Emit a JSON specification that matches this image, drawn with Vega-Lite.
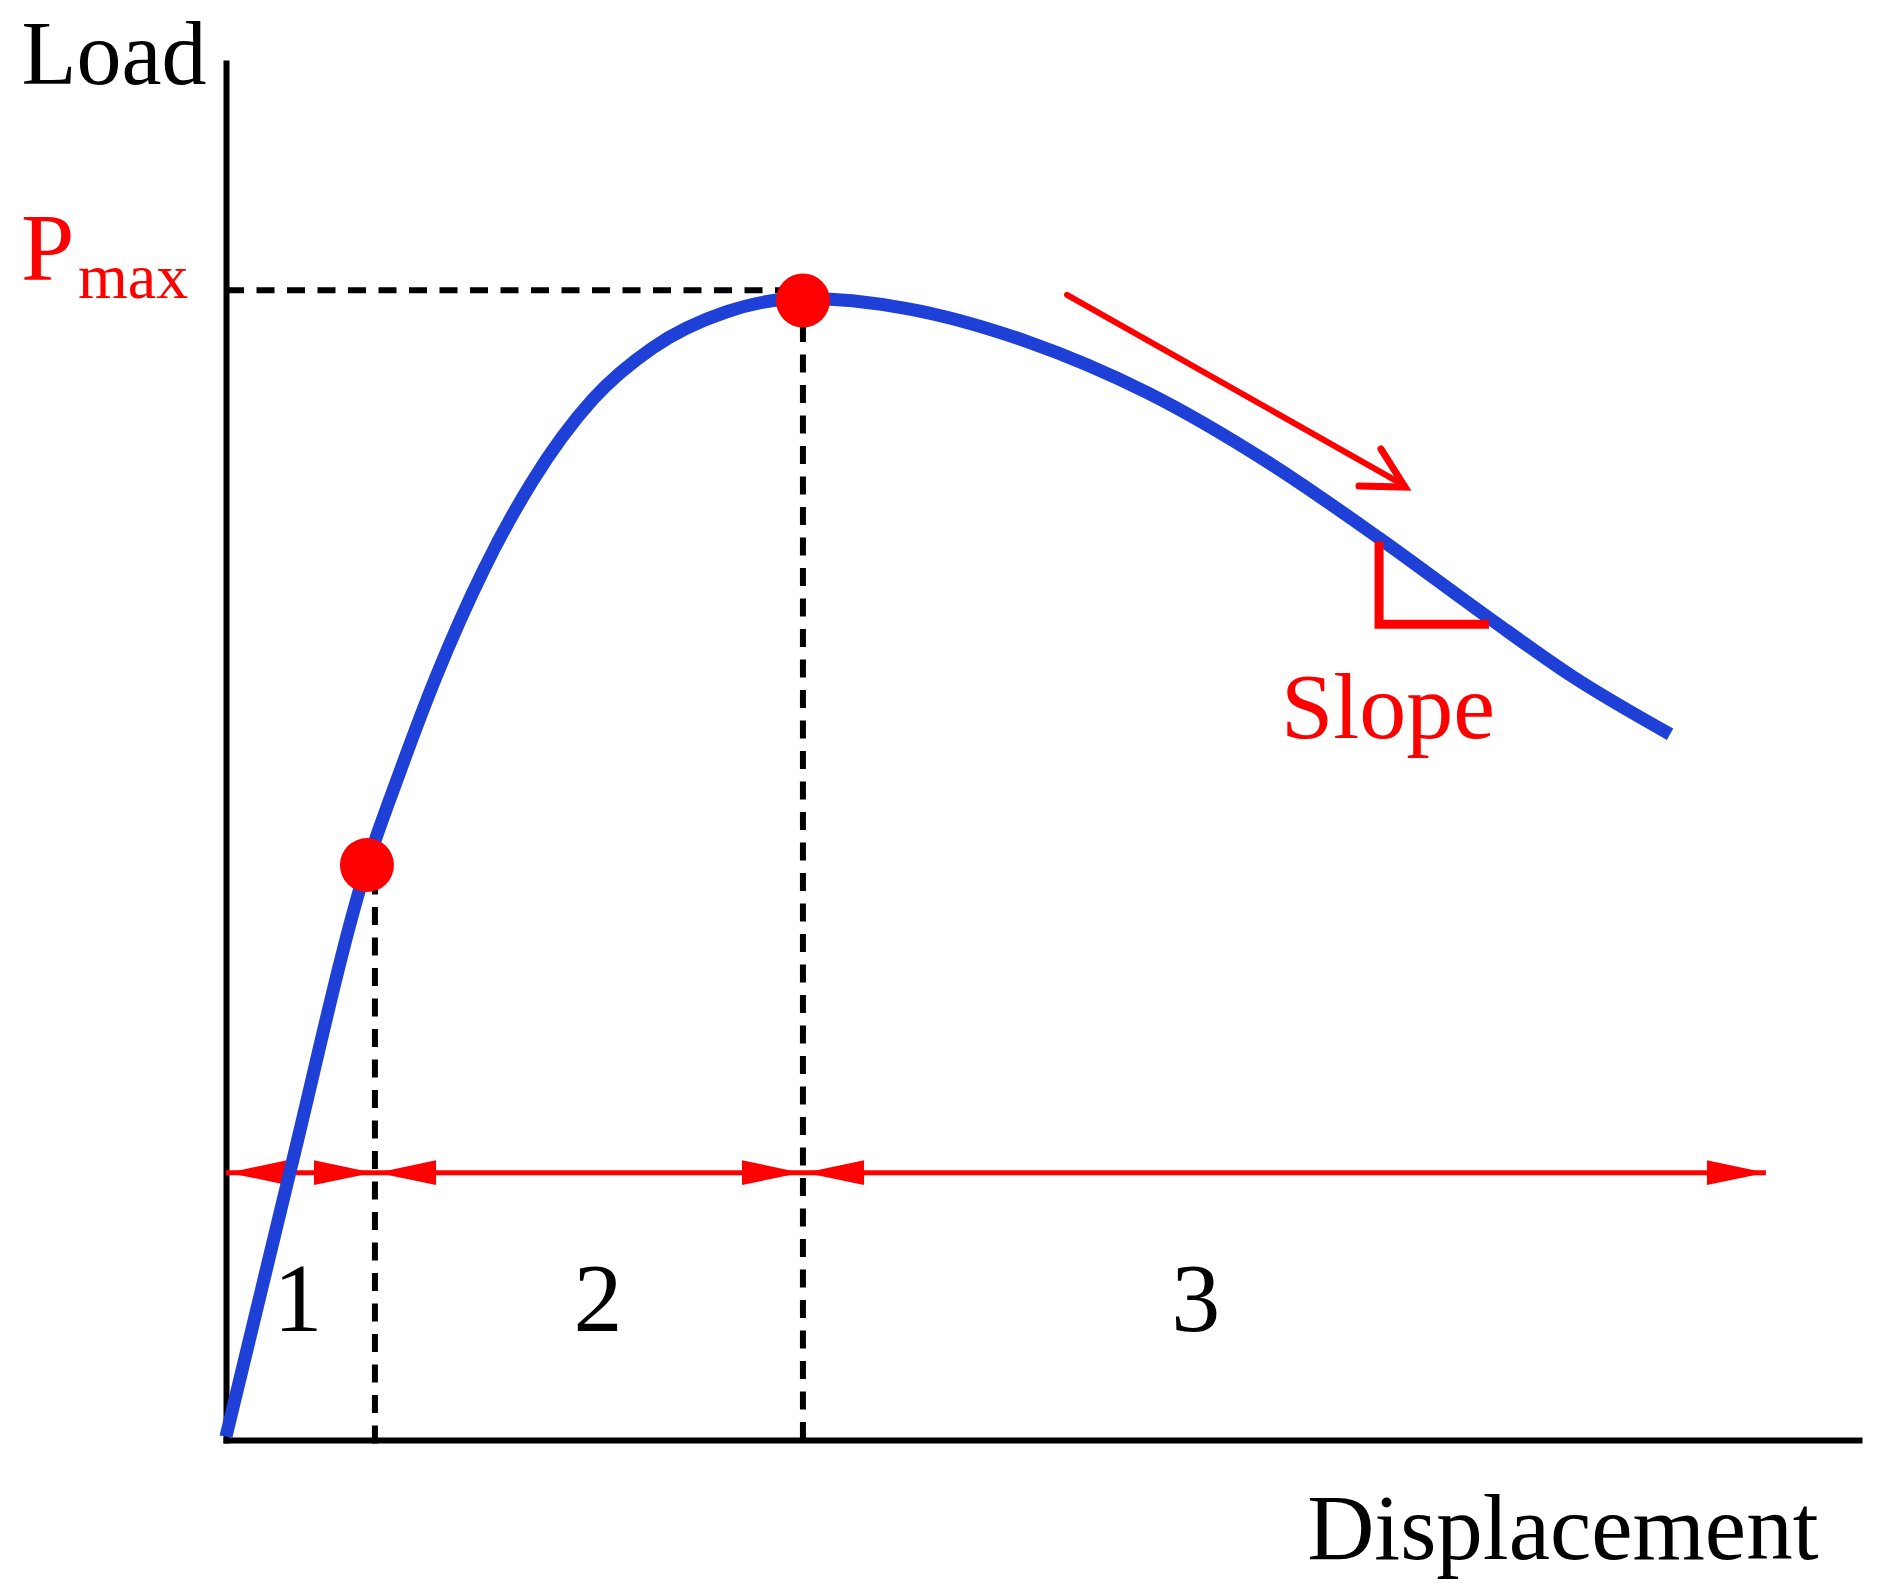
{
  "$schema": "https://vega.github.io/schema/vega-lite/v6.json",
  "width": 1633,
  "height": 1377,
  "autosize": {"type": "none"},
  "padding": {"left": 226, "top": 63, "right": 38, "bottom": 145},
  "background": "white",
  "config": {
    "view": {"stroke": null},
    "font": "Liberation Serif",
    "axis": {
      "domainColor": "black",
      "domainWidth": 6,
      "domainCap": "square",
      "ticks": false,
      "labels": false,
      "grid": false,
      "titleFont": "Liberation Serif",
      "titleFontWeight": "normal",
      "titleColor": "black"
    }
  },
  "datasets": {
    "curve": [
      {"d": 0.0, "load": 0.003},
      {"d": 0.392, "load": 0.234},
      {"d": 0.863, "load": 0.501},
      {"d": 1.059, "load": 0.580},
      {"d": 1.286, "load": 0.665},
      {"d": 1.580, "load": 0.759},
      {"d": 1.874, "load": 0.835},
      {"d": 2.247, "load": 0.907},
      {"d": 2.615, "load": 0.952},
      {"d": 3.062, "load": 0.983},
      {"d": 3.533, "load": 0.995},
      {"d": 4.170, "load": 0.986},
      {"d": 4.911, "load": 0.957},
      {"d": 5.652, "load": 0.912},
      {"d": 6.393, "load": 0.851},
      {"d": 7.061, "load": 0.786},
      {"d": 7.728, "load": 0.717},
      {"d": 8.249, "load": 0.665},
      {"d": 8.843, "load": 0.615}
    ],
    "guides": [
      {"d": 0, "d2": 3.533, "load": 1.002, "load2": 1.002},
      {"d": 0.912, "d2": 0.912, "load": -0.003, "load2": 0.501},
      {"d": 3.533, "d2": 3.533, "load": 0, "load2": 0.993}
    ],
    "spans": [
      {"d": 0, "d2": 9.43, "load": 0.233, "load2": 0.233}
    ],
    "heads": [
      {"d": 0.012, "load": 0.233, "dir": "left"},
      {"d": 0.925, "load": 0.233, "dir": "left"},
      {"d": 3.546, "load": 0.233, "dir": "left"},
      {"d": 0.900, "load": 0.233, "dir": "right"},
      {"d": 3.521, "load": 0.233, "dir": "right"},
      {"d": 9.430, "load": 0.233, "dir": "right"}
    ],
    "dots": [
      {"d": 0.863, "load": 0.501},
      {"d": 3.533, "load": 0.993}
    ],
    "slopeL": [
      {"d": 7.061, "load": 0.783, "o": 1},
      {"d": 7.061, "load": 0.711, "o": 2},
      {"d": 7.734, "load": 0.711, "o": 3}
    ],
    "shaft": [
      {"d": 5.150, "d2": 7.215, "load": 0.998, "load2": 0.832}
    ],
    "arrowHead": [
      {"d": 7.073, "load": 0.8636, "o": 1},
      {"d": 7.220, "load": 0.8305, "o": 2},
      {"d": 6.938, "load": 0.8314, "o": 3}
    ],
    "regions": [
      {"d": 0.441, "load": 0.095, "label": "1"},
      {"d": 2.278, "load": 0.095, "label": "2"},
      {"d": 5.939, "load": 0.095, "label": "3"}
    ],
    "pLabel": [{"d": -1.255, "load": 1.011, "label": "P"}],
    "maxLabel": [{"d": -0.906, "load": 0.995, "label": "max"}],
    "slopeLabel": [{"d": 6.460, "load": 0.612, "label": "Slope"}]
  },
  "encoding": {
    "x": {
      "field": "d",
      "type": "quantitative",
      "scale": {"domain": [0, 10], "nice": false, "zero": false},
      "axis": {
        "title": "Displacement",
        "titleFontSize": 93,
        "titleAngle": 0,
        "titleAlign": "right",
        "titleBaseline": "alphabetic",
        "titleX": 1592,
        "titleY": 118
      }
    },
    "y": {
      "field": "load",
      "type": "quantitative",
      "scale": {"domain": [0, 1.2], "nice": false, "zero": false},
      "axis": {
        "title": "Load",
        "titleFontSize": 90,
        "titleAngle": 0,
        "titleAlign": "right",
        "titleBaseline": "alphabetic",
        "titleX": -20,
        "titleY": 20
      }
    }
  },
  "layer": [
    {
      "data": {"name": "guides"},
      "mark": {"type": "rule", "color": "black", "strokeWidth": 6, "strokeDash": [18, 12.5], "strokeCap": "butt"},
      "encoding": {
        "x2": {"field": "d2"},
        "y2": {"field": "load2"}
      }
    },
    {
      "data": {"name": "spans"},
      "mark": {"type": "rule", "color": "#ff0000", "strokeWidth": 5, "strokeCap": "butt"},
      "encoding": {
        "x2": {"field": "d2"},
        "y2": {"field": "load2"}
      }
    },
    {
      "data": {"name": "heads"},
      "transform": [{"filter": "datum.dir == 'left'"}],
      "mark": {"type": "point", "filled": true, "color": "#ff0000", "opacity": 1, "strokeWidth": 0, "size": 3481, "shape": "M 0 0 L 2 -0.42 L 2 0.42 Z"},
      "encoding": {}
    },
    {
      "data": {"name": "heads"},
      "transform": [{"filter": "datum.dir == 'right'"}],
      "mark": {"type": "point", "filled": true, "color": "#ff0000", "opacity": 1, "strokeWidth": 0, "size": 3481, "shape": "M 0 0 L -2 -0.42 L -2 0.42 Z"},
      "encoding": {}
    },
    {
      "data": {"name": "curve"},
      "mark": {"type": "line", "color": "#1e40d6", "strokeWidth": 13, "interpolate": "monotone", "strokeCap": "butt"},
      "encoding": {}
    },
    {
      "data": {"name": "slopeL"},
      "mark": {"type": "line", "color": "#ff0000", "strokeWidth": 9, "strokeJoin": "miter", "strokeCap": "butt"},
      "encoding": {"order": {"field": "o", "type": "quantitative"}}
    },
    {
      "data": {"name": "shaft"},
      "mark": {"type": "rule", "color": "#ff0000", "strokeWidth": 6, "strokeCap": "round"},
      "encoding": {
        "x2": {"field": "d2"},
        "y2": {"field": "load2"}
      }
    },
    {
      "data": {"name": "arrowHead"},
      "mark": {"type": "line", "color": "#ff0000", "strokeWidth": 7, "strokeJoin": "miter", "strokeCap": "round"},
      "encoding": {"order": {"field": "o", "type": "quantitative"}}
    },
    {
      "data": {"name": "dots"},
      "mark": {"type": "point", "shape": "circle", "filled": true, "color": "#ff0000", "opacity": 1, "strokeWidth": 0, "size": 2916},
      "encoding": {}
    },
    {
      "data": {"name": "regions"},
      "mark": {"type": "text", "font": "Liberation Serif", "fontSize": 98, "color": "black", "align": "center", "baseline": "alphabetic"},
      "encoding": {"text": {"field": "label"}}
    },
    {
      "data": {"name": "pLabel"},
      "mark": {"type": "text", "font": "Liberation Serif", "fontSize": 96, "color": "#ff0000", "align": "left", "baseline": "alphabetic"},
      "encoding": {"text": {"field": "label"}}
    },
    {
      "data": {"name": "maxLabel"},
      "mark": {"type": "text", "font": "Liberation Serif", "fontSize": 64, "color": "#ff0000", "align": "left", "baseline": "alphabetic"},
      "encoding": {"text": {"field": "label"}}
    },
    {
      "data": {"name": "slopeLabel"},
      "mark": {"type": "text", "font": "Liberation Serif", "fontSize": 94, "color": "#ff0000", "align": "left", "baseline": "alphabetic"},
      "encoding": {"text": {"field": "label"}}
    }
  ]
}
